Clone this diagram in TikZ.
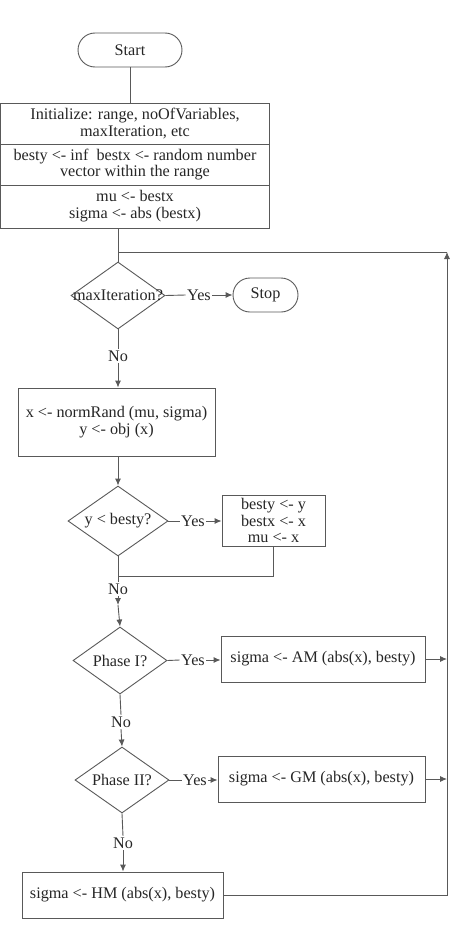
\documentclass[tikz,border=0pt]{standalone}
\usepackage{fontspec}
\setmainfont{Liberation Serif}
\usetikzlibrary{shapes.geometric,arrows.meta}
\begin{document}
\begin{tikzpicture}[x=1pt,y=-1pt,
  every node/.style={font=\fontsize{16.2}{16.8}\selectfont, text=black!85},
  line/.style={draw=black!65, line width=0.9pt},
  arr/.style={draw=black!65, line width=0.9pt, -{Latex[length=7pt,width=6pt]}},
  term/.style={line, rounded corners=17pt, minimum width=#1, minimum height=34pt, inner sep=0pt},
  box/.style 2 args={line, minimum width=#1, minimum height=#2, inner sep=0pt, align=center},
  dec/.style 2 args={line, diamond, minimum width=#1, minimum height=#2, inner sep=0pt},
  lab/.style={inner sep=1.5pt}
]
\useasboundingbox (0,0) rectangle (456,926);

% start and initialisation
\node[term=104pt] (start) at (130,50) {Start};
\node[box={269pt}{41pt}] (init) at (135,123.5) {Initialize: range, noOfVariables,\\maxIteration, etc};
\node[box={269pt}{41pt}] (best) at (135,164.5) {besty <- inf\ \ bestx <- random number\\vector within the range};
\node[box={269pt}{43pt}] (musig) at (135,206.5) {mu <- bestx\\sigma <- abs (bestx)};

% loop head
\coordinate (jn) at (118,252);
\coordinate (loopR) at (447,252);
\coordinate (loopB) at (447,895);

\node[dec={94pt}{67pt}] (d1) at (118,295.5) {\makebox[0pt]{maxIteration?}};
\node[lab] (yes1) at (199,295) {Yes};
\node[term=65pt] (stop) at (265.5,295) {Stop};
\node[lab] (no1) at (118,356) {No};

\node[box={197pt}{68pt}] (gen) at (116.5,422) {x <- normRand (mu, sigma)\\y <- obj (x)};

\node[dec={100pt}{70pt}] (d2) at (118,521) {\makebox[0pt]{y < besty?}};
\node[lab] (yes2) at (193,521) {Yes};
\node[box={103pt}{51pt}] (upd) at (273.5,520.5) {besty <- y\\bestx <- x\\mu <- x};
\coordinate (merge) at (118,576);
\node[lab] (no2) at (118,589) {No};
\coordinate (mid2) at (118,605);

\node[dec={94pt}{67pt}] (d3) at (120,660.5) {\makebox[0pt]{Phase I?}};
\node[lab] (yes3) at (193,660) {Yes};
\node[box={204pt}{46pt}] (am) at (323,659) {sigma <- AM (abs(x), besty)};
\node[lab] (no3) at (121,722) {No};

\node[dec={94pt}{66pt}] (d4) at (122,780) {\makebox[0pt]{Phase II?}};
\node[lab] (yes4) at (195,780) {Yes};
\node[box={207pt}{46pt}] (gm) at (321.5,779) {sigma <- GM (abs(x), besty)};
\node[lab] (no4) at (123,843) {No};

\node[box={201pt}{46pt}] (hm) at (122.5,895) {sigma <- HM (abs(x), besty)};

% connectors
\draw[line] (start) -- (start |- init.north);
\draw[line] (musig.south -| jn) -- (d1.north);
\draw[line] (d1.east) -- (yes1.west);
\draw[arr] (yes1.east) -- (stop.west);
\draw[line] (d1.south) -- (no1.north);
\draw[arr] (no1.south) -- (gen.north -| no1);
\draw[arr] (gen.south -| d2) -- (d2.north);
\draw[line] (d2.east) -- (yes2.west);
\draw[arr] (yes2.east) -- (upd.west |- yes2);
\draw[line] (d2.south) -- (merge);
\draw[line] (upd.south) -- (upd.south |- merge) -- (merge);
\draw[line] (merge) -- (no2.north);
\draw[arr] (no2.south) -- (mid2);
\draw[arr] (mid2) -- (d3.north);
\draw[line] (d3.east) -- (yes3.west);
\draw[arr] (yes3.east) -- (am.west |- yes3);
\draw[line] (d3.south) -- (no3.north);
\draw[arr] (no3.south) -- (d4.north);
\draw[line] (d4.east) -- (yes4.west);
\draw[arr] (yes4.east) -- (gm.west |- yes4);
\draw[line] (d4.south) -- (no4.north);
\draw[arr] (no4.south) -- (hm.north -| no4);
\draw[arr] (am.east) -- (am.east -| loopR);
\draw[arr] (gm.east) -- (gm.east -| loopR);
\draw[arr] (hm.east) -- (loopB) -- (loopR);
\draw[line] (loopR) -- (jn);
\end{tikzpicture}
\end{document}
